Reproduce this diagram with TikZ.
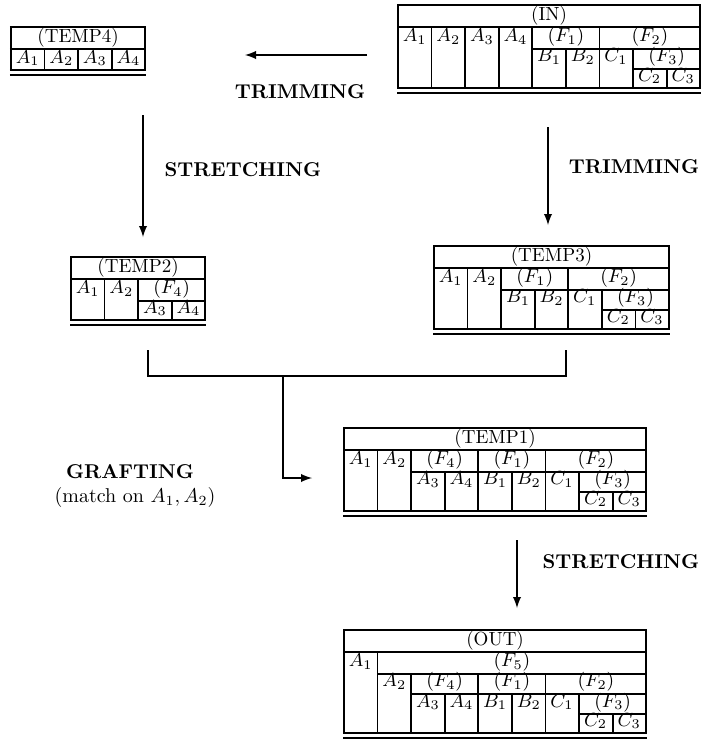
\RequirePackage{fix-cm}
\documentclass[tikz,border=0pt]{standalone}
\usepackage{amsmath,amssymb,tikz,array}
\setlength{\arrayrulewidth}{0.9pt}
\setlength{\doublerulesep}{1.5pt}
\setlength{\tabcolsep}{2pt}
\renewcommand{\arraystretch}{0.85}
\newcolumntype{Q}{p{11.9pt}}

\begin{document}
\begin{tikzpicture}[x=0.5pt,y=-0.5pt,
 tbl/.style={anchor=north west,inner sep=0pt,outer sep=0pt,font=\fontsize{9.5}{11.4}\selectfont},
 lbl/.style={font=\bfseries},
 arr/.style={line width=0.9pt,-latex},
 lnk/.style={line width=0.9pt}]
 \useasboundingbox (0,0) rectangle (708,740);
 % the relations
 \node[tbl] (in) at (397,4) {\begin{tabular}{|Q|Q|Q|Q|Q|Q|Q|Q|Q|}\hline
  \multicolumn{9}{|c|}{(IN)}\\\hline
  $A_1$ & $A_2$ & $A_3$ & $A_4$ & \multicolumn{2}{c|}{$(F_1)$} & \multicolumn{3}{c|}{$(F_2)$}\\\cline{5-9}
  & & & & $B_1$ & $B_2$ & $C_1$ & \multicolumn{2}{c|}{$(F_3)$}\\\cline{8-9}
  & & & & & & & $C_2$ & $C_3$\\\hline\hline
 \end{tabular}};
 \node[tbl] (temp4) at (10,26) {\begin{tabular}{|Q|Q|Q|Q|}\hline
  \multicolumn{4}{|c|}{(TEMP4)}\\\hline
  $A_1$ & $A_2$ & $A_3$ & $A_4$\\\hline\hline
 \end{tabular}};
 \node[tbl] (temp2) at (70,256) {\begin{tabular}{|Q|Q|Q|Q|}\hline
  \multicolumn{4}{|c|}{(TEMP2)}\\\hline
  $A_1$ & $A_2$ & \multicolumn{2}{c|}{$(F_4)$}\\\cline{3-4}
  & & $A_3$ & $A_4$\\\hline\hline
 \end{tabular}};
 \node[tbl] (temp3) at (433,245) {\begin{tabular}{|Q|Q|Q|Q|Q|Q|Q|}\hline
  \multicolumn{7}{|c|}{(TEMP3)}\\\hline
  $A_1$ & $A_2$ & \multicolumn{2}{c|}{$(F_1)$} & \multicolumn{3}{c|}{$(F_2)$}\\\cline{3-7}
  & & $B_1$ & $B_2$ & $C_1$ & \multicolumn{2}{c|}{$(F_3)$}\\\cline{6-7}
  & & & & & $C_2$ & $C_3$\\\hline\hline
 \end{tabular}};
 \node[tbl] (temp1) at (343,427) {\begin{tabular}{|Q|Q|Q|Q|Q|Q|Q|Q|Q|}\hline
  \multicolumn{9}{|c|}{(TEMP1)}\\\hline
  $A_1$ & $A_2$ & \multicolumn{2}{c|}{$(F_4)$} & \multicolumn{2}{c|}{$(F_1)$} & \multicolumn{3}{c|}{$(F_2)$}\\\cline{3-9}
  & & $A_3$ & $A_4$ & $B_1$ & $B_2$ & $C_1$ & \multicolumn{2}{c|}{$(F_3)$}\\\cline{8-9}
  & & & & & & & $C_2$ & $C_3$\\\hline\hline
 \end{tabular}};
 \node[tbl] (out) at (343,629) {\begin{tabular}{|Q|Q|Q|Q|Q|Q|Q|Q|Q|}\hline
  \multicolumn{9}{|c|}{(OUT)}\\\hline
  $A_1$ & \multicolumn{8}{c|}{$(F_5)$}\\\cline{2-9}
  & $A_2$ & \multicolumn{2}{c|}{$(F_4)$} & \multicolumn{2}{c|}{$(F_1)$} & \multicolumn{3}{c|}{$(F_2)$}\\\cline{3-9}
  & & $A_3$ & $A_4$ & $B_1$ & $B_2$ & $C_1$ & \multicolumn{2}{c|}{$(F_3)$}\\\cline{8-9}
  & & & & & & & $C_2$ & $C_3$\\\hline\hline
 \end{tabular}};
 % operations
 \node[lbl] (trim1) at (300,92) {TRIMMING};
 \node[lbl] (str1) at (243,170) {STRETCHING};
 \node[lbl] (trim2) at (634,167) {TRIMMING};
 \node[lbl] (graft) at (130,472) {GRAFTING};
 \node (match) at (135,497) {(match on $A_1, A_2$)};
 \node[lbl] (str2) at (621,562) {STRETCHING};
 % arrows
 \coordinate (a1) at (367,55); \coordinate (a2) at (245,55);
 \draw[arr] (a1)--(a2);
 \coordinate (b1) at (143,115); \coordinate (b2) at (143,237);
 \draw[arr] (b1)--(b2);
 \coordinate (c1) at (548,127); \coordinate (c2) at (548,225);
 \draw[arr] (c1)--(c2);
 \coordinate (g1) at (148,350); \coordinate (g2) at (566,350); \coordinate (g3) at (283,376); \coordinate (g4) at (312,478);
 \draw[lnk] (g1)--(148,376)--(566,376)--(g2);
 \draw[arr] (g3)|-(g4);
 \coordinate (d1) at (517,540); \coordinate (d2) at (517,608);
 \draw[arr] (d1)--(d2);
\end{tikzpicture}
\end{document}
